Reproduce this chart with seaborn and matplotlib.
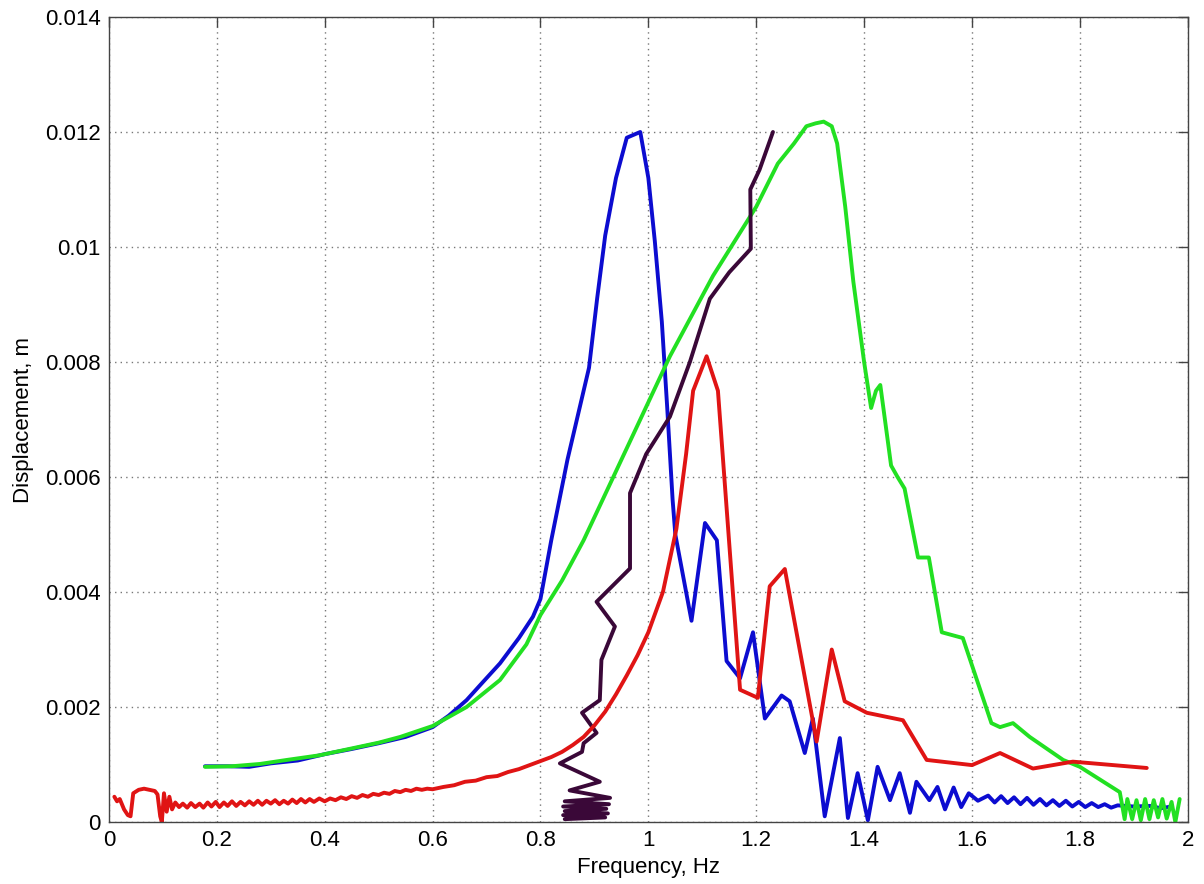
import numpy as np
import matplotlib
matplotlib.use("Agg")
import matplotlib.pyplot as plt
import seaborn as sns
import pandas as pd
from matplotlib.ticker import FuncFormatter

fsize = 15

# blue response
blue_f = [0.178, 0.22, 0.26, 0.30, 0.35, 0.40, 0.45, 0.50, 0.55, 0.60, 0.63, 0.663, 0.69, 0.725,
          0.76, 0.786, 0.80, 0.82, 0.85, 0.89, 0.905, 0.92, 0.94, 0.96, 0.985, 1.00, 1.012, 1.025,
          1.035, 1.045, 1.05, 1.08, 1.105, 1.127, 1.145, 1.17, 1.194, 1.216, 1.247, 1.262, 1.29,
          1.305, 1.327, 1.355, 1.37, 1.388, 1.407, 1.425, 1.448, 1.466, 1.485, 1.497, 1.521, 1.536,
          1.55, 1.566, 1.58, 1.594, 1.611, 1.63, 1.642, 1.654, 1.666, 1.678, 1.690, 1.702, 1.714,
          1.726, 1.738, 1.750, 1.762, 1.774, 1.786, 1.798, 1.810, 1.822, 1.834, 1.846, 1.858, 1.870,
          1.90, 1.93, 1.95, 1.97]
blue_d = [0.00097, 0.00097, 0.00096, 0.00102, 0.00107, 0.00118, 0.00127, 0.00137, 0.00148, 0.00165,
          0.00185, 0.00212, 0.00240, 0.00276, 0.00320, 0.00357, 0.00388, 0.0049, 0.0063, 0.0079,
          0.0091, 0.0102, 0.0112, 0.0119, 0.0120, 0.0112, 0.0101, 0.0087, 0.0072, 0.0056, 0.0050,
          0.0035, 0.0052, 0.0049, 0.0028, 0.0025, 0.0033, 0.0018, 0.0022, 0.0021, 0.0012, 0.0018,
          0.0001, 0.00146, 0.00007, 0.00085, 0.00003, 0.00096, 0.00038, 0.00085, 0.00016, 0.0007,
          0.00038, 0.00061, 0.00022, 0.0006, 0.00026, 0.0005, 0.00037, 0.00046, 0.00034, 0.00045,
          0.00033, 0.00043, 0.00031, 0.00042, 0.00030, 0.00040, 0.00029, 0.00038, 0.00028, 0.00037,
          0.00027, 0.00035, 0.00026, 0.00033, 0.00026, 0.00031, 0.00025, 0.00029, 0.00027, 0.00028,
          0.00024, 0.00027]

# green response
green_f = [0.178, 0.228, 0.28, 0.33, 0.39, 0.45, 0.50, 0.54, 0.60, 0.663, 0.725, 0.774, 0.80, 0.84,
           0.88, 0.92, 0.96, 1.00, 1.04, 1.08, 1.12, 1.16, 1.20, 1.24, 1.27, 1.293, 1.31, 1.325,
           1.34, 1.35, 1.365, 1.38, 1.40, 1.413, 1.422, 1.43, 1.45, 1.462, 1.475, 1.50, 1.52, 1.544,
           1.583, 1.636, 1.652, 1.676, 1.707, 1.769, 1.80, 1.874, 1.883, 1.888, 1.897, 1.905, 1.913,
           1.921, 1.929, 1.937, 1.945, 1.953, 1.961, 1.970, 1.977, 1.985]
green_d = [0.00096, 0.00097, 0.00101, 0.00108, 0.00116, 0.00128, 0.00138, 0.00148, 0.00167, 0.00200,
           0.00247, 0.00309, 0.0036, 0.0042, 0.0049, 0.0057, 0.0065, 0.0073, 0.0081, 0.0088, 0.0095,
           0.0101, 0.0107, 0.01145, 0.0118, 0.0121, 0.01215, 0.01218, 0.0121, 0.0118, 0.0107, 0.0094,
           0.0080, 0.0072, 0.0075, 0.0076, 0.0062, 0.0060, 0.0058, 0.0046, 0.0046, 0.0033, 0.0032,
           0.00172, 0.00165, 0.00172, 0.00148, 0.00108, 0.00096, 0.00052, 0.00005, 0.00040, 0.00005,
           0.00038, 0.00003, 0.00040, 0.00005, 0.00038, 0.00008, 0.00040, 0.00006, 0.00035, 0.00000,
           0.00040]

# red response
red_f = [0.010, 0.015, 0.020, 0.028, 0.035, 0.040, 0.045, 0.055, 0.065, 0.075, 0.085, 0.090, 0.095,
         0.098, 0.102, 0.107, 0.112, 0.117, 0.123, 0.130, 0.137, 0.145, 0.152, 0.160, 0.168, 0.175,
         0.183, 0.190, 0.198, 0.205, 0.213, 0.220, 0.228, 0.236, 0.244, 0.252, 0.260, 0.268, 0.276,
         0.284, 0.292, 0.300, 0.308, 0.316, 0.324, 0.332, 0.340, 0.348, 0.356, 0.364, 0.372, 0.380,
         0.390, 0.400, 0.41, 0.42, 0.43, 0.44, 0.45, 0.46, 0.47, 0.48, 0.49, 0.50, 0.51, 0.52, 0.53,
         0.54, 0.55, 0.56, 0.57, 0.58, 0.59, 0.60, 0.62, 0.64, 0.66, 0.68, 0.70, 0.72, 0.74, 0.76,
         0.78, 0.80, 0.82, 0.84, 0.86, 0.88, 0.90, 0.92, 0.94, 0.96, 0.98, 1.00, 1.027, 1.052, 1.07,
         1.083, 1.108, 1.129, 1.17, 1.203, 1.225, 1.253, 1.312, 1.34, 1.364, 1.405, 1.472, 1.516,
         1.60, 1.652, 1.713, 1.787, 1.924]
red_d = [0.00044, 0.00036, 0.00040, 0.00022, 0.00012, 0.00010, 0.00050, 0.00056, 0.00058, 0.00056,
         0.00054, 0.00048, 0.00010, 0.00000, 0.00050, 0.00018, 0.00044, 0.00022, 0.00034, 0.00026,
         0.00032, 0.00025, 0.00033, 0.00026, 0.00032, 0.00025, 0.00034, 0.00027, 0.00035, 0.00026,
         0.00034, 0.00028, 0.00036, 0.00028, 0.00035, 0.00029, 0.00036, 0.00030, 0.00037, 0.00030,
         0.00037, 0.00032, 0.00038, 0.00031, 0.00037, 0.00032, 0.00039, 0.00033, 0.00040, 0.00034,
         0.00040, 0.00035, 0.00041, 0.00036, 0.00041, 0.00038, 0.00043, 0.00040, 0.00045, 0.00042,
         0.00047, 0.00044, 0.00049, 0.00047, 0.00051, 0.00049, 0.00054, 0.00052, 0.00056, 0.00054,
         0.00058, 0.00056, 0.00058, 0.00057, 0.00061, 0.00064, 0.00070, 0.00072, 0.00078, 0.00080,
         0.00087, 0.00092, 0.00099, 0.00106, 0.00113, 0.00122, 0.00134, 0.00148, 0.00168, 0.00192,
         0.00222, 0.00255, 0.00290, 0.00330, 0.0040, 0.0051, 0.0064, 0.0075, 0.0081, 0.0075, 0.0023,
         0.00216, 0.0041, 0.0044, 0.0014, 0.0030, 0.0021, 0.0019, 0.00177, 0.00108, 0.00099, 0.0012,
         0.00093, 0.00105, 0.00094]

# dark purple sweep (not monotonic in frequency)
purple_f = [0.845, 0.920, 0.842, 0.925, 0.845, 0.922, 0.842, 0.927, 0.845, 0.929, 0.854, 0.910,
            0.836, 0.877, 0.880, 0.904, 0.877, 0.910, 0.913, 0.938, 0.904, 0.966, 0.966, 0.996,
            1.04, 1.077, 1.114, 1.15, 1.19, 1.189, 1.206, 1.231]
purple_d = [0.00005, 0.00008, 0.00012, 0.00015, 0.00019, 0.00023, 0.00027, 0.00031, 0.00036, 0.00042,
            0.00055, 0.00070, 0.00102, 0.00122, 0.00137, 0.00155, 0.00190, 0.00212, 0.00282, 0.00340,
            0.00383, 0.00441, 0.00572, 0.0064, 0.00705, 0.0080, 0.0091, 0.00956, 0.00997, 0.0110,
            0.01134, 0.0120]

series = [
    ("blue", blue_f, blue_d, "#0c0cd0"),
    ("green", green_f, green_d, "#22e022"),
    ("purple", purple_f, purple_d, "#3a0838"),
    ("red", red_f, red_d, "#e01414"),
]

sns.set_style("white")
plt.rcParams['font.family'] = ['Liberation Sans', 'DejaVu Sans']

fig = plt.figure(figsize=(12.04, 8.84), dpi=100)
ax = fig.add_axes([0.0905, 0.0701, 0.896, 0.9107])

for name, f, d, c in series:
    df = pd.DataFrame({"f": f, "d": d})
    sns.lineplot(data=df, x="f", y="d", sort=False, estimator=None, color=c,
                 linewidth=2.8, ax=ax)

ax.set_xlim(0, 2)
ax.set_ylim(0, 0.014)
ax.set_xticks(np.arange(0, 2.01, 0.2))
ax.set_yticks(np.arange(0, 0.01401, 0.002))
fmt = FuncFormatter(lambda v, p: "%g" % round(v, 4))
ax.xaxis.set_major_formatter(fmt)
ax.yaxis.set_major_formatter(fmt)
ax.grid(True, linestyle=(0, (1, 3)), color="#777777", linewidth=1)
ax.tick_params(direction="in", top=True, right=True, length=7, width=1,
               color="#444444", labelcolor="black", labelsize=16, pad=6)
for s in ax.spines.values():
    s.set_color("#444444")
    s.set_linewidth(1)
ax.set_xlabel("Frequency, Hz", fontsize=16, color="black", labelpad=4)
ax.set_ylabel("Displacement, m", fontsize=16, color="black", labelpad=8)

fig.savefig("out.png", dpi=100)
